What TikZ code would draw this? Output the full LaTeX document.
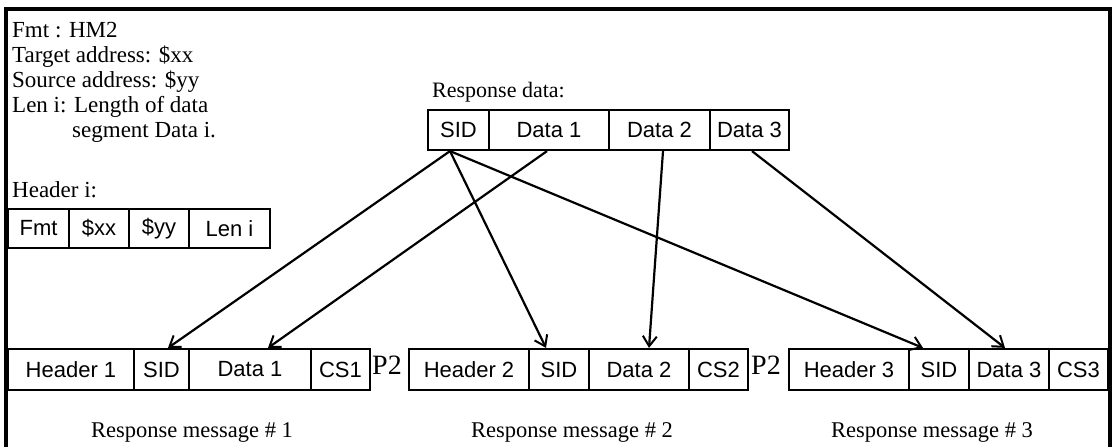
\documentclass[tikz,border=0pt]{standalone}
\usepackage{fontspec}
\setmainfont{Liberation Serif}
\setsansfont{Liberation Sans}
\usetikzlibrary{arrows.meta}
\begin{document}
\begin{tikzpicture}[x=1pt,y=-1pt,
  cell/.style={draw,line width=2.2pt,inner sep=0pt,minimum height=#1,
    font=\sffamily\fontsize{22}{25}\selectfont},
  cell/.default=40pt,
  serif/.style={inner sep=0pt,font=\rmfamily\fontsize{23}{26}\selectfont},
  caption/.style={inner sep=0pt,anchor=base,font=\rmfamily\fontsize{22.5}{26}\selectfont},
  ptwo/.style={inner sep=0pt,anchor=base west,font=\rmfamily\fontsize{28}{32}\selectfont},
  link/.style={line width=2.2pt,-{Straight Barb[length=10pt,width=14pt,line width=2pt]}},
  frame/.style={line width=3.5pt}]
\useasboundingbox (0,0) rectangle (1114,447);
% frame
\draw[frame] (6,448) -- (6,9) -- (1110,9) -- (1110,448);
% legend text
\node[serif,anchor=base west] (t1) at (12,37) {Fmt : HM2};
\node[serif,anchor=base west] (t2) at (12,62) {Target address: \$xx};
\node[serif,anchor=base west] (t3) at (12,87) {Source address: \$yy};
\node[serif,anchor=base west] (t4) at (12,112) {Len i: Length of data};
\node[serif,anchor=base west] (t5) at (72,137) {segment Data i.};
\node[serif,anchor=base west] (t6) at (12,197) {Header i:};
% header i
\node[cell=39pt,minimum width=61pt] (hfmt) at (38.5,228.5) {Fmt};
\node[cell=39pt,minimum width=60pt] (hxx) at (99,228.5) {\$xx};
\node[cell=39pt,minimum width=60pt] (hyy) at (159,228.5) {\$yy};
\node[cell=39pt,minimum width=81pt] (hlen) at (229.5,228.5) {Len i};
% response data
\node[inner sep=0pt,anchor=base west,font=\rmfamily\fontsize{22}{25}\selectfont] (rlab) at (432,97) {Response data:};
\node[cell,minimum width=61pt] (rsid) at (458.5,130) {SID};
\node[cell,minimum width=120pt] (rd1) at (549,130) {Data 1};
\node[cell,minimum width=101pt] (rd2) at (659.5,130) {Data 2};
\node[cell,minimum width=79pt] (rd3) at (749.5,130) {Data 3};
% message 1
\node[cell=41pt,minimum width=126pt] (h1) at (71,369.5) {Header 1};
\node[cell=41pt,minimum width=55pt] (s1) at (161.5,369.5) {SID};
\node[cell=41pt,minimum width=122pt] (d1) at (250,369.5) {Data 1};
\node[cell=41pt,minimum width=59pt] (c1) at (340.5,369.5) {CS1};
\node[ptwo] (p1) at (372,374) {P2};
% message 2
\node[cell=41pt,minimum width=120pt] (h2) at (469,369.5) {Header 2};
\node[cell=41pt,minimum width=60pt] (s2) at (559,369.5) {SID};
\node[cell=41pt,minimum width=100pt] (d2) at (639,369.5) {Data 2};
\node[cell=41pt,minimum width=59pt] (c2) at (718.5,369.5) {CS2};
\node[ptwo] (p2) at (751,374) {P2};
% message 3
\node[cell=41pt,minimum width=120pt] (h3) at (849,369.5) {Header 3};
\node[cell=41pt,minimum width=60pt] (s3) at (939,369.5) {SID};
\node[cell=41pt,minimum width=80pt] (d3) at (1009,369.5) {Data 3};
\node[cell=41pt,minimum width=59pt] (c3) at (1078.5,369.5) {CS3};
% captions
\node[caption] (m1) at (192,437) {Response message \# 1};
\node[caption] (m2) at (572,437) {Response message \# 2};
\node[caption] (m3) at (932,437) {Response message \# 3};
% connectors
\draw[link] ([xshift=-8.5pt]rsid.south) -- ([xshift=6.5pt]s1.north);
\draw[link] ([xshift=-2pt]rd1.south) -- ([xshift=18pt]d1.north);
\draw[link] ([xshift=-8.5pt]rsid.south) -- ([xshift=-13pt]s2.north);
\draw[link] ([xshift=3.5pt]rd2.south) -- ([xshift=10pt]d2.north);
\draw[link] ([xshift=-8.5pt]rsid.south) -- ([xshift=-16pt]s3.north);
\draw[link] ([xshift=2.5pt]rd3.south) -- ([xshift=-4pt]d3.north);
\end{tikzpicture}
\end{document}
